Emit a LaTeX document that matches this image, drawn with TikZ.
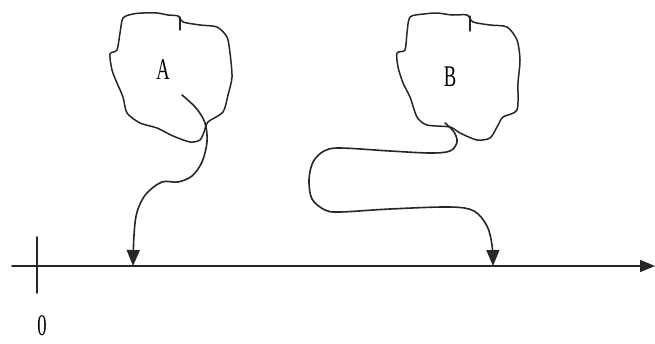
\documentclass[tikz,border=0pt]{standalone}
\usepackage{fontspec}
\setmainfont{Liberation Serif}
\usetikzlibrary{arrows.meta}
\tikzset{
  ink/.style={draw=black!85, line width=1.6pt, line cap=round, line join=round},
  cloud/.style={ink, line width=1.5pt},
  tail/.style={ink, -{Triangle[width=13pt,length=16pt]}},
  axis/.style={ink, -{Triangle[width=12pt,length=15pt]}},
  lbl/.style={font=\fontsize{30}{30}\selectfont, xscale=0.62, inner sep=0pt}
}
\begin{document}
\begin{tikzpicture}[x=1pt,y=-1pt]
\useasboundingbox (0,0) rectangle (655,343);

% axis with origin tick
\coordinate (axL) at (12,266);
\coordinate (axR) at (655,266);
\draw[axis] (axL) -- (axR);
\coordinate (t1) at (37,237);
\coordinate (t2) at (37,293);
\draw[ink] (t1) -- (t2);
\node[lbl] (zero) at (42,326) {0};

% landing points on the axis
\coordinate (pA) at (133,266);
\coordinate (pB) at (493,266);

% cloud A
\draw[cloud] plot[smooth cycle, tension=0.45] coordinates {
  (123,18) (133,14) (143,13) (157,13) (168,15) (178,16) (183,22)
  (200,25) (217,27) (227,37) (230,53) (232,77) (228,95) (223,112)
  (208,122) (204,132) (200,140) (190,142) (173,136) (157,128)
  (140,123) (127,113) (123,97) (117,83) (112,70) (110,54)
  (117,50) (120,33)};
\draw[ink, line width=1.3pt] (180,17) -- (180,30);
\node[lbl] (A) at (163,70) {A};

% cloud B
\draw[cloud] plot[smooth cycle, tension=0.45] coordinates {
  (410,17) (424,14) (437,13) (452,15) (467,15) (473,22)
  (490,25) (507,27) (517,40) (520,60) (518,83) (517,110)
  (503,117) (497,127) (490,138) (477,140) (460,133) (450,127)
  (427,125) (417,117) (410,97) (403,83) (398,67) (397,53)
  (405,50) (407,33)};
\draw[ink, line width=1.3pt] (470,16) -- (470,31);
\node[lbl] (B) at (450,77) {B};

% path from A down to the axis
\coordinate (sA) at (182,95);
\draw[tail] plot[smooth, tension=0.55] coordinates {
  (sA) (196,108) (205,123) (207,142) (202,162) (192,176) (178,182)
  (162,182) (146,194) (137,212) (134,235) (pA)};

% winding path from B down to the axis
\coordinate (sB) at (445,123);
\draw[tail] plot[smooth, tension=0.55] coordinates {
  (sB) (454,132) (457,142) (450,151) (430,153) (390,151) (340,148)
  (324,151) (313,162) (309,180) (312,199) (325,210) (340,212)
  (390,209) (450,207) (474,211) (487,226) (492,245) (pB)};
\end{tikzpicture}
\end{document}
